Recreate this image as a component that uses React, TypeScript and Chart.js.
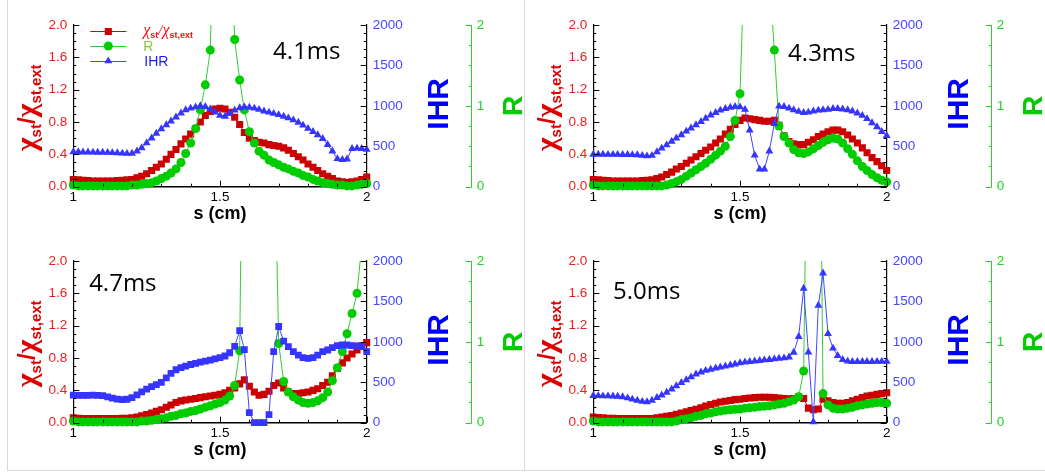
import React, { useEffect, useRef } from "react";
import { Chart, registerables } from "chart.js";
Chart.register(...registerables);

// ---------- data ----------
const S = [
  1, 1.017, 1.033, 1.05, 1.067, 1.083, 1.1, 1.117, 1.133, 1.15,
  1.167, 1.183, 1.2, 1.217, 1.233, 1.25, 1.267, 1.283, 1.3, 1.317,
  1.333, 1.35, 1.367, 1.383, 1.4, 1.417, 1.433, 1.45, 1.467, 1.483,
  1.5, 1.517, 1.533, 1.55, 1.567, 1.583, 1.6, 1.617, 1.633, 1.65,
  1.667, 1.683, 1.7, 1.717, 1.733, 1.75, 1.767, 1.783, 1.8, 1.817,
  1.833, 1.85, 1.867, 1.883, 1.9, 1.917, 1.933, 1.95, 1.967, 1.983,
  2,
];

const CHI_41 = [
  0.09, 0.085, 0.08, 0.075, 0.07, 0.07, 0.07, 0.07, 0.07, 0.075,
  0.08, 0.085, 0.09, 0.11, 0.13, 0.16, 0.2, 0.24, 0.28, 0.34,
  0.4, 0.46, 0.53, 0.59, 0.65, 0.72, 0.8, 0.88, 0.93, 0.96,
  0.97, 0.96, 0.92, 0.86, 0.77, 0.67, 0.6, 0.57, 0.55, 0.54,
  0.52, 0.51, 0.5, 0.48, 0.45, 0.41, 0.37, 0.33, 0.28, 0.24,
  0.2, 0.16, 0.13, 0.1, 0.07, 0.06, 0.05, 0.06, 0.07, 0.09,
  0.12,
];
const R_41 = [
  0.02, 0.01, 0.01, 0.01, 0.01, 0.01, 0.01, 0.01, 0.01, 0.01,
  0.01, 0.01, 0.02, 0.02, 0.03, 0.04, 0.05, 0.07, 0.1, 0.13,
  0.17, 0.22, 0.3, 0.41, 0.54, 0.72, 0.95, 1.26, 1.69, 4,
  9, 9, 3.5, 1.82, 1.32, 0.95, 0.68, 0.54, 0.44, 0.39,
  0.33, 0.3, 0.27, 0.24, 0.22, 0.19, 0.17, 0.14, 0.12, 0.09,
  0.07, 0.05, 0.04, 0.03, 0.02, 0.02, 0.01, 0.01, 0.02, 0.03,
  0.04,
];
const IHR_41 = [
  430, 430, 428, 427, 426, 425, 424, 423, 420, 418,
  414, 410, 412, 440, 480, 540, 600, 660, 715, 765,
  810, 860, 910, 950, 970, 985, 1000, 990, 960, 920,
  880, 870, 905, 945, 975, 985, 980, 970, 955, 935,
  920, 905, 890, 870, 850, 825, 795, 760, 720, 680,
  640, 595, 520, 440, 345, 335, 340, 470, 475, 470,
  460,
];

const CHI_43 = [
  0.09, 0.085, 0.08, 0.075, 0.07, 0.07, 0.07, 0.07, 0.07, 0.07,
  0.075, 0.08, 0.085, 0.1, 0.12, 0.15, 0.18, 0.22, 0.25, 0.29,
  0.33, 0.37, 0.41, 0.45, 0.49, 0.54, 0.59, 0.65, 0.71, 0.77,
  0.82, 0.85, 0.84, 0.83, 0.82, 0.81, 0.81, 0.82, 0.76, 0.63,
  0.56, 0.53, 0.52, 0.52, 0.55, 0.58, 0.62, 0.65, 0.68, 0.7,
  0.7, 0.68, 0.64, 0.59, 0.54, 0.48, 0.42, 0.36, 0.31, 0.26,
  0.2,
];
const R_43 = [
  0.02, 0.01, 0.01, 0.01, 0.01, 0.01, 0.01, 0.01, 0.01, 0.01,
  0.01, 0.01, 0.01, 0.01, 0.01, 0.02, 0.04, 0.06, 0.09, 0.13,
  0.17, 0.21, 0.25, 0.29, 0.34, 0.39, 0.44, 0.5, 0.62, 0.82,
  1.15, 3, 8, 12, 10, 5, 2.6, 1.69, 0.75, 0.62,
  0.54, 0.46, 0.42, 0.41, 0.43, 0.47, 0.51, 0.55, 0.58, 0.6,
  0.59, 0.54, 0.47, 0.4, 0.32, 0.25, 0.2, 0.15, 0.11, 0.08,
  0.06,
];
const IHR_43 = [
  400, 400, 400, 398, 398, 398, 397, 396, 395, 393,
  385, 380, 385, 430, 475, 515, 560, 600, 640, 685,
  725, 765, 805, 845, 885, 915, 945, 965, 980, 990,
  985, 955, 700, 390, 215, 215, 440, 780, 995, 990,
  970, 950, 930, 915, 920, 935, 945, 950, 955, 965,
  965, 960, 950, 935, 910, 880, 840, 790, 740, 680,
  630,
];

const CHI_47 = [
  0.06, 0.055, 0.05, 0.05, 0.05, 0.05, 0.05, 0.05, 0.05, 0.05,
  0.055, 0.055, 0.06, 0.07, 0.085, 0.1, 0.12, 0.14, 0.16, 0.19,
  0.22, 0.25, 0.27, 0.28, 0.29, 0.3, 0.31, 0.32, 0.33, 0.34,
  0.35, 0.37, 0.4, 0.43, 0.48, 0.53, 0.45, 0.38, 0.34, 0.35,
  0.39, 0.46, 0.49, 0.43, 0.38, 0.36, 0.36, 0.37, 0.38, 0.4,
  0.42, 0.46, 0.5, 0.58, 0.67, 0.74, 0.8, 0.85, 0.9, 0.95,
  0.99,
];
const R_47 = [
  0.02, 0.01, 0.01, 0.01, 0.01, 0.01, 0.01, 0.01, 0.01, 0.01,
  0.01, 0.01, 0.01, 0.01, 0.02, 0.02, 0.03, 0.04, 0.05, 0.06,
  0.08, 0.09, 0.11, 0.12, 0.14, 0.15, 0.17, 0.19, 0.21, 0.23,
  0.25, 0.28, 0.33, 0.46, 0.89, 6, 15, 20, 20, 15,
  8, 4, 0.98, 0.51, 0.38, 0.32, 0.28, 0.25, 0.24, 0.25,
  0.27, 0.31, 0.38, 0.52, 0.68, 0.88, 1.1, 1.35, 1.6, 2.2,
  3.2,
];
const IHR_47 = [
  340, 338, 337, 338, 340, 338, 335, 320, 305, 292,
  285, 290, 310, 345, 380, 415, 445, 470, 500, 555,
  610, 655, 680, 700, 720, 735, 750, 762, 775, 790,
  805, 825, 865, 945, 1140, 905, 125, 0, 0, 0,
  100, 880, 1190, 1010, 940, 878, 837, 804, 796, 804,
  837, 878, 899, 928, 953, 961, 961, 953, 950, 940,
  880,
];

const CHI_50 = [
  0.07, 0.065, 0.06, 0.055, 0.055, 0.05, 0.05, 0.05, 0.05, 0.05,
  0.05, 0.05, 0.05, 0.06, 0.07, 0.08, 0.09, 0.105, 0.12, 0.135,
  0.15, 0.165, 0.185, 0.205, 0.225, 0.24, 0.255, 0.265, 0.275, 0.285,
  0.29, 0.3, 0.305, 0.31, 0.315, 0.315, 0.315, 0.31, 0.305, 0.3,
  0.295, 0.3, 0.32, 0.3, 0.18, 0.16, 0.17, 0.29, 0.27, 0.25,
  0.24, 0.24, 0.25, 0.27, 0.29, 0.31, 0.33, 0.34, 0.35, 0.36,
  0.37,
];
const R_50 = [
  0.02, 0.01, 0.01, 0.01, 0.01, 0.01, 0.01, 0.01, 0.01, 0.01,
  0.01, 0.01, 0.01, 0.01, 0.01, 0.01, 0.01, 0.02, 0.04, 0.05,
  0.06, 0.08, 0.09, 0.11, 0.12, 0.135, 0.145, 0.155, 0.16, 0.165,
  0.17, 0.18, 0.185, 0.19, 0.2, 0.205, 0.21, 0.22, 0.23, 0.24,
  0.26, 0.28, 0.32, 0.64, 5, 15, 6, 0.36, 0.22, 0.18,
  0.17, 0.17, 0.18, 0.19, 0.21, 0.22, 0.23, 0.24, 0.25, 0.25,
  0.24,
];
const IHR_50 = [
  335, 333, 330, 330, 328, 325, 320, 305, 290, 275,
  262, 258, 275, 310, 340, 375, 415, 455, 495, 530,
  565, 600, 625, 645, 660, 675, 688, 700, 712, 725,
  740, 748, 755, 762, 768, 775, 780, 788, 795, 800,
  810, 870, 1064, 1662, 871, 10, 1450, 1850, 1100, 920,
  830, 780, 760, 755, 755, 755, 755, 755, 757, 757,
  757,
];

const TIME_LABELS = ["4.1ms", "4.3ms", "4.7ms", "5.0ms"];
const LEGEND_LABELS = ["R", "IHR"];
const X_TITLE = "s (cm)";
const IHR_TITLE = "IHR";
const R_TITLE = "R";

// ---------- styles ----------
const FONT = '"Liberation Sans", Arial, sans-serif';
const SERIF = '"Liberation Serif", serif';
const RED_MARK = "#cc0000";
const RED_LINE = "#d40000";
const GREEN_MARK = "#00cc00";
const GREEN_LINE = "#33cc33";
const BLUE_MARK = "#3535ff";
const BLUE_LINE = "#4545ff";
const CW = 525;
const CH = 236;

type Panel = {
  chi: number[];
  r: number[];
  ihr: number[];
  ihrPoint: "triangle" | "rect";
  time: string;
  timeAt: [number, number];
  legend: boolean;
  left: number;
  top: number;
};

const PANELS: Panel[] = [
  { chi: CHI_41, r: R_41, ihr: IHR_41, ihrPoint: "triangle", time: TIME_LABELS[0], timeAt: [1.681, 1.58], legend: true, left: 0, top: 0 },
  { chi: CHI_43, r: R_43, ihr: IHR_43, ihrPoint: "triangle", time: TIME_LABELS[1], timeAt: [1.664, 1.555], legend: false, left: 520, top: 0 },
  { chi: CHI_47, r: R_47, ihr: IHR_47, ihrPoint: "rect", time: TIME_LABELS[2], timeAt: [1.054, 1.63], legend: false, left: 0, top: 236 },
  { chi: CHI_50, r: R_50, ihr: IHR_50, ihrPoint: "triangle", time: TIME_LABELS[3], timeAt: [1.067, 1.53], legend: false, left: 520, top: 236 },
];

type Part = { t: string; font: string; dy: number };

function drawRich(ctx: CanvasRenderingContext2D, parts: Part[], x: number, y: number, rot: number, align: "center" | "left") {
  ctx.save();
  ctx.translate(x, y);
  ctx.rotate(rot);
  ctx.textAlign = "left";
  ctx.textBaseline = "alphabetic";
  let total = 0;
  const widths: number[] = [];
  for (const p of parts) {
    ctx.font = p.font;
    const w = ctx.measureText(p.t).width;
    widths.push(w);
    total += w;
  }
  let cx = align === "center" ? -total / 2 : 0;
  parts.forEach((p, i) => {
    ctx.font = p.font;
    ctx.fillText(p.t, cx, p.dy);
    cx += widths[i];
  });
  ctx.restore();
}

function marker(ctx: CanvasRenderingContext2D, style: string, x: number, y: number, r: number) {
  ctx.beginPath();
  if (style === "rect") {
    const s = r * Math.SQRT2;
    ctx.rect(x - s / 2, y - s / 2, s, s);
  } else if (style === "circle") {
    ctx.arc(x, y, r, 0, Math.PI * 2);
  } else {
    let a = 0;
    for (let k = 0; k < 3; k++) {
      const px = x + Math.sin(a) * r;
      const py = y - Math.cos(a) * r;
      if (k === 0) ctx.moveTo(px, py);
      else ctx.lineTo(px, py);
      a += (2 * Math.PI) / 3;
    }
    ctx.closePath();
  }
  ctx.fill();
}

function decorPlugin(p: Panel) {
  return {
    id: "decor",
    afterDraw(chart: any) {
      const ctx: CanvasRenderingContext2D = chart.ctx;
      const ca = chart.chartArea;
      const sx = chart.scales.x;
      const sy = chart.scales.y;
      const s1 = chart.scales.y1;
      const s2 = chart.scales.y2;
      const crisp = (v: number) => Math.round(v) + 0.5;
      ctx.save();
      // inward tick marks
      ctx.lineWidth = 1;
      ctx.strokeStyle = "#000";
      ctx.beginPath();
      for (let k = 0; k <= 20; k++) {
        const py = crisp(sy.getPixelForValue(k * 0.1));
        const len = k % 4 === 0 ? 6 : 3;
        ctx.moveTo(ca.left, py);
        ctx.lineTo(ca.left + len, py);
      }
      for (let k = 0; k <= 20; k++) {
        const py = crisp(s1.getPixelForValue(k * 100));
        const len = k % 5 === 0 ? 6 : 3;
        ctx.moveTo(ca.right, py);
        ctx.lineTo(ca.right - len, py);
      }
      for (let k = 0; k <= 10; k++) {
        const px = crisp(sx.getPixelForValue(1 + k * 0.1));
        const len = k % 5 === 0 ? 6 : 3;
        ctx.moveTo(px, ca.bottom);
        ctx.lineTo(px, ca.bottom - len);
      }
      ctx.stroke();
      ctx.strokeStyle = GREEN_LINE;
      ctx.beginPath();
      for (let k = 0; k <= 8; k++) {
        const py = crisp(s2.getPixelForValue(k * 0.25));
        const len = k % 4 === 0 ? 6 : 3;
        ctx.moveTo(s2.left, py);
        ctx.lineTo(s2.left - len, py);
      }
      ctx.stroke();

      // axis titles
      const cy = (ca.top + ca.bottom) / 2;
      ctx.fillStyle = "#dd0000";
      drawRich(
        ctx,
        [
          { t: "χ", font: `bold 30px ${SERIF}`, dy: 0 },
          { t: "st", font: `bold 15px ${FONT}`, dy: 5 },
          { t: "/", font: `bold 24px ${FONT}`, dy: -1 },
          { t: "χ", font: `bold 30px ${SERIF}`, dy: 0 },
          { t: "st,ext", font: `bold 15px ${FONT}`, dy: 5 },
        ],
        ca.left - 37,
        cy + 2,
        -Math.PI / 2,
        "center"
      );
      ctx.fillStyle = "#0000ff";
      drawRich(ctx, [{ t: IHR_TITLE, font: `bold 30px ${FONT}`, dy: 0 }], s2.left - 24, cy - 2, -Math.PI / 2, "center");
      ctx.fillStyle = "#00cc00";
      drawRich(ctx, [{ t: R_TITLE, font: `bold 28px ${FONT}`, dy: 0 }], s2.left + 50.5, cy, -Math.PI / 2, "center");

      ctx.fillStyle = "#000";
      ctx.font = `bold 18px ${FONT}`;
      ctx.textAlign = "center";
      ctx.textBaseline = "alphabetic";
      ctx.fillText(X_TITLE, (ca.left + ca.right) / 2, ca.bottom + 32);

      // time label
      ctx.font = '24px "Open Sans", sans-serif';
      ctx.textAlign = "left";
      ctx.fillText(p.time, sx.getPixelForValue(p.timeAt[0]), sy.getPixelForValue(p.timeAt[1]));

      // legend
      if (p.legend) {
        const rows = [
          { y: ca.top + 6, line: RED_LINE, mark: RED_MARK, style: "rect", r: 5 },
          { y: ca.top + 20.5, line: GREEN_LINE, mark: GREEN_MARK, style: "circle", r: 4.5 },
          { y: ca.top + 35.5, line: BLUE_LINE, mark: BLUE_MARK, style: "triangle", r: 4.6 },
        ];
        const lx0 = ca.left + 17;
        const lx1 = ca.left + 53;
        for (const row of rows) {
          ctx.strokeStyle = row.line;
          ctx.lineWidth = 1;
          ctx.beginPath();
          ctx.moveTo(lx0, crisp(row.y));
          ctx.lineTo(lx1, crisp(row.y));
          ctx.stroke();
          ctx.fillStyle = row.mark;
          marker(ctx, row.style, (lx0 + lx1) / 2, row.y + 0.5, row.r);
        }
        const tx = ca.left + 70;
        ctx.fillStyle = "#ee1111";
        drawRich(
          ctx,
          [
            { t: "χ", font: `italic 16px ${SERIF}`, dy: 0 },
            { t: "st", font: `bold 9px ${FONT}`, dy: 3 },
            { t: "/", font: `italic 15px ${SERIF}`, dy: 0 },
            { t: "χ", font: `italic 16px ${SERIF}`, dy: 0 },
            { t: "st,ext", font: `bold 9px ${FONT}`, dy: 3 },
          ],
          tx,
          rows[0].y + 4,
          0,
          "left"
        );
        ctx.font = `14px ${FONT}`;
        ctx.textAlign = "left";
        ctx.fillStyle = "#8cc63e";
        ctx.fillText(LEGEND_LABELS[0], tx, rows[1].y + 5);
        ctx.fillStyle = "#1a1aff";
        ctx.fillText(LEGEND_LABELS[1], tx + 1, rows[2].y + 5.5);
      }
      ctx.restore();
    },
  };
}

function buildConfig(p: Panel): any {
  const pts = (arr: number[]) => S.map((x, i) => ({ x, y: arr[i] }));
  const clip = { left: 8, right: 8, top: 0, bottom: 8 };
  return {
    type: "line",
    data: {
      datasets: [
        {
          label: "chi",
          data: pts(p.chi),
          yAxisID: "y",
          borderColor: RED_LINE,
          backgroundColor: RED_MARK,
          borderWidth: 1,
          pointStyle: "rect",
          pointRadius: 5,
          pointBorderWidth: 0,
          tension: 0,
          order: 3,
          clip,
        },
        {
          label: "R",
          data: pts(p.r),
          yAxisID: "y2",
          borderColor: GREEN_LINE,
          backgroundColor: GREEN_MARK,
          borderWidth: 1,
          pointStyle: "circle",
          pointRadius: 4.5,
          pointBorderWidth: 0,
          tension: 0,
          order: 2,
          clip,
        },
        {
          label: "IHR",
          data: pts(p.ihr),
          yAxisID: "y1",
          borderColor: BLUE_LINE,
          backgroundColor: BLUE_MARK,
          borderWidth: 1,
          pointStyle: p.ihrPoint,
          pointRadius: p.ihrPoint === "rect" ? 4.8 : 4.6,
          pointBorderWidth: 0,
          tension: 0,
          order: 1,
          clip,
        },
      ],
    },
    options: {
      responsive: false,
      animation: false,
      devicePixelRatio: 1,
      events: [],
      layout: { padding: { top: 25, left: 0, right: 0, bottom: 0 } },
      plugins: { legend: { display: false }, tooltip: { enabled: false } },
      scales: {
        x: {
          type: "linear",
          min: 1,
          max: 2,
          grid: { display: false, drawTicks: false },
          border: { display: true, color: "#000", width: 1.5 },
          ticks: {
            stepSize: 0.5,
            autoSkip: false,
            maxRotation: 0,
            minRotation: 0,
            padding: 2,
            color: "#000",
            font: { family: FONT, size: 13.5 },
            callback: (v: number) => String(v),
          },
          afterFit: (s: any) => {
            s.height = 49.3;
          },
        },
        y: {
          type: "linear",
          position: "left",
          min: 0,
          max: 2,
          grid: { display: false, drawTicks: false },
          border: { display: true, color: "#000", width: 1.2 },
          ticks: {
            stepSize: 0.4,
            padding: 6,
            color: "#e42222",
            font: { family: FONT, size: 13.5 },
            callback: (v: number) => Number(v).toFixed(1),
          },
          afterFit: (s: any) => {
            s.width = 73.3;
          },
        },
        y1: {
          type: "linear",
          position: "right",
          weight: 0,
          min: 0,
          max: 2000,
          grid: { display: false, drawTicks: false },
          border: { display: true, color: "#000", width: 1.2 },
          ticks: {
            stepSize: 500,
            padding: 6,
            color: "#4747ff",
            font: { family: FONT, size: 13.5 },
            callback: (v: number) => String(v),
          },
          afterFit: (s: any) => {
            s.width = 105;
          },
        },
        y2: {
          type: "linear",
          position: "right",
          weight: 1,
          min: 0,
          max: 2,
          grid: { display: false, drawTicks: false },
          border: { display: true, color: GREEN_LINE, width: 1 },
          ticks: {
            stepSize: 1,
            padding: 5,
            color: "#22d022",
            font: { family: FONT, size: 13.5 },
            callback: (v: number) => String(v),
          },
          afterFit: (s: any) => {
            s.width = 53.3;
          },
        },
      },
    },
    plugins: [decorPlugin(p)],
  };
}

function PanelChart({ p }: { p: Panel }) {
  const ref = useRef<HTMLCanvasElement>(null);
  useEffect(() => {
    if (!ref.current) return;
    const chart = new Chart(ref.current, buildConfig(p));
    return () => chart.destroy();
  }, [p]);
  return (
    <div style={{ position: "absolute", left: p.left, top: p.top, width: CW, height: CH }}>
      <canvas ref={ref} width={CW} height={CH} style={{ width: CW, height: CH, display: "block" }} />
    </div>
  );
}

export default function App() {
  return (
    <div style={{ position: "fixed", left: 0, top: 0, width: 1045, height: 473, background: "#fff", overflow: "hidden" }}>
      <div style={{ position: "absolute", left: 7, top: 0, width: 1, height: 471, background: "#d9d9d9" }} />
      <div style={{ position: "absolute", left: 524, top: 0, width: 1, height: 471, background: "#d9d9d9" }} />
      <div style={{ position: "absolute", left: 7, top: 470, width: 1038, height: 1, background: "#d9d9d9" }} />
      {PANELS.map((p, i) => (
        <PanelChart key={i} p={p} />
      ))}
    </div>
  );
}
